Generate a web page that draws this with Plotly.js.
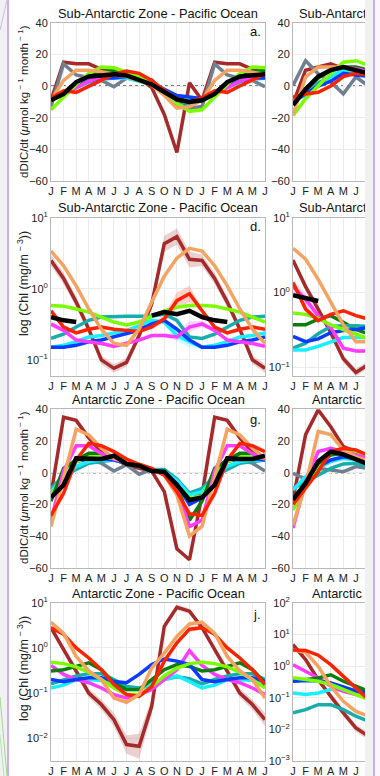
<!DOCTYPE html>
<html>
<head>
<meta charset="utf-8">
<script src="https://cdn.plot.ly/plotly-3.0.1.min.js"></script>
<style>
  html, body { margin:0; padding:0; }
  body { width:380px; height:776px; position:relative; overflow:hidden; background:#f1f1f1; }
  #white { position:absolute; left:9px; top:0; width:356px; height:776px; background:#ffffff; }
  #clip { position:absolute; left:0; top:0; width:365px; height:776px; overflow:hidden; }
  #chart { width:520px; height:776px; }
  .vline { position:absolute; top:0; width:2px; height:776px; background:#c7aef1; }
  #rightpad { position:absolute; left:375px; top:0; width:5px; height:776px; background:#f8f8f8; }
</style>
</head>
<body>
<div id="white"></div>
<div id="clip"><div id="chart"></div></div>
<div class="vline" style="left:7px"></div>
<div class="vline" style="left:373px"></div>
<div id="rightpad"></div>
<svg style="position:absolute;left:0;top:0" width="12" height="776">
  <line x1="0" y1="30" x2="7" y2="0" stroke="#cdb8f2" stroke-width="1"/>
  <line x1="0" y1="697" x2="7" y2="776" stroke="#9fd98f" stroke-width="1"/>
  <line x1="0" y1="735" x2="4" y2="776" stroke="#b6e3aa" stroke-width="1"/>
</svg>
<script>
// ---------- categories / ticks ----------
const monthLabels = ['J','F','M','A','M','J','J','A','S','O','N','D','J','F','M','A','M','J'];
const monthPos = [0,1,2,3,4,5,6,7,8,9,10,11,12,13,14,15,16,17];
const rightPos = [0,1,2,3,4,5,6];
const rightTickPos = [0,1,2,3,4,5];
const rightTickLabels = ['J','F','M','A','M','J'];

// ---------- Panel a: Sub-Antarctic Zone, Pacific, dDIC/dt (Jan..Dec climatology) ----------
const a_brown   = [-9, 15, 14, 14, 10.5, 8, 8, 5, -1, -18, -42, 2];
const a_grey    = [-13, 14, 7, 5, 3.5, -0.5, 5, 3.5, 4, -5, -12, -14];
const a_lgreen  = [-15, -7, 1, 8, 12, 11.5, 9, 6, 1.5, -5, -11, -16];
const a_dgreen  = [-8, -4, 2, 6, 9, 10, 8, 5, 2, -3, -9, -12];
const a_orange  = [-9, 3.5, 10, 10, 9, 7.5, 6, 3.5, 0.5, -6, -14, -13];
const a_red     = [-7.5, -3, -4, 0, 3.5, 7.5, 9.5, 8, 3.5, -3, -9, -10];
const a_blue    = [-8, -4, 0, 3, 5, 5, 6, 4, 2, -2, -6, -7];
const a_cyan    = [-8, -5, -1, 2, 4, 5, 5, 3, 1, -4, -8, -8];
const a_teal    = [-9, -5, 0, 3, 5, 6, 6, 4, 1, -4, -10, -11];
const a_magenta = [-8, -5, -1, 3, 6, 7, 6, 4, 1, -3, -8, -10];
const a_black   = [-9, -5, 2.5, 6, 6.7, 7.4, 6.7, 4.2, 1, -3.8, -8.4, -10];

// ---------- Panel b (right column, first months) ----------
const b_grey    = [0.4, 16, 7.8, 2.5, -4.9, 5.7, 0];
const b_brown   = [-11, 10, 12, 14, 11, 9, 8];
const b_orange  = [-18, 5.7, 12, 12, 12, 10, 7];
const b_lgreen  = [-18.6, -8, 0, 8, 15, 16, 13];
const b_dgreen  = [-10, -3, 5, 10, 12, 12, 10];
const b_red     = [-7, -5, -4, 0, 6, 8, 7];
const b_blue    = [-10, -5, 0, 3, 8, 7, 6];
const b_cyan    = [-9, -6, 0, 6, 10, 8, 7];
const b_teal    = [-8, -6, 2, 6, 10, 10, 9];
const b_magenta = [-10, -2, 6, 10, 12, 11, 9];
const b_black   = [-12, -2, 6, 10, 12, 10, 8];

// ---------- Panel d: Sub-Antarctic Zone, Pacific, Chl ----------
const d_brown   = [2.5, 1.4, 0.65, 0.27, 0.10, 0.076, 0.092, 0.22, 0.61, 4.3, 5.4, 2.6];
const d_orange  = [3.4, 2.1, 1.1, 0.52, 0.27, 0.17, 0.16, 0.27, 0.65, 1.5, 2.7, 3.7];
const d_lgreen  = [0.58, 0.57, 0.52, 0.47, 0.40, 0.34, 0.31, 0.34, 0.41, 0.49, 0.55, 0.58];
const d_black   = [0.40, 0.36, 0.34, null, null, null, null, null, 0.42, 0.47, 0.44, 0.49];
const d_red     = [0.49, 0.29, 0.24, 0.27, 0.29, 0.27, 0.26, 0.25, 0.29, 0.38, 0.68, 0.85];
const d_teal    = [0.20, 0.23, 0.29, 0.36, 0.40, 0.41, 0.41, 0.41, 0.41, 0.44, 0.36, 0.21];
const d_cyan    = [0.15, 0.16, 0.18, 0.21, 0.22, 0.24, 0.26, 0.30, 0.36, 0.34, 0.22, 0.18];
const d_blue    = [0.15, 0.15, 0.16, 0.18, 0.19, 0.21, 0.23, 0.26, 0.32, 0.36, 0.27, 0.19];
const d_magenta = [0.32, 0.26, 0.19, 0.18, 0.17, 0.155, 0.17, 0.19, 0.22, 0.22, 0.21, 0.29];
// band half-widths (multiplicative)
const d_brownSpread   = [1.2, 1.2, 1.2, 1.15, 1.15, 1.15, 1.15, 1.15, 1.2, 1.3, 1.3, 1.3];
const d_redSpread     = [1.05, 1.05, 1.05, 1.05, 1.05, 1.05, 1.05, 1.05, 1.08, 1.15, 1.3, 1.3];
const d_magentaSpread = [1.1, 1.08, 1.05, 1.05, 1.05, 1.05, 1.05, 1.05, 1.05, 1.05, 1.12, 1.2];
const d_cyanSpread    = [1.05, 1.05, 1.05, 1.05, 1.05, 1.05, 1.05, 1.05, 1.05, 1.1, 1.2, 1.2];

// ---------- Panel e (right column) ----------
const e_orange  = [3.9, 2.8, 1.5, 0.73, 0.37, 0.22, 0.22];
const e_brown   = [2.7, 1.2, 0.60, 0.29, 0.13, 0.085, 0.11];
const e_red     = [1.36, 0.60, 0.42, 0.51, 0.57, 0.49, 0.44];
const e_magenta = [1.2, 0.81, 0.49, 0.34, 0.18, 0.165, 0.165];
const e_black   = [0.92, 0.84, 0.77, null, null, null, null];
const e_lgreen  = [0.53, 0.51, 0.45, 0.37, 0.32, 0.28, 0.24];
const e_dgreen  = [0.37, 0.37, 0.44, 0.49, 0.40, 0.32, 0.28];
const e_teal    = [0.18, 0.21, 0.28, 0.35, 0.36, 0.36, 0.35];
const e_blue    = [0.26, 0.22, 0.24, 0.29, 0.31, 0.32, 0.34];
const e_cyan    = [0.17, 0.17, 0.19, 0.22, 0.25, 0.25, 0.25];
const e_brownSpread   = [1.12, 1.12, 1.12, 1.12, 1.12, 1.12, 1.12];
const e_magentaSpread = [1.2, 1.2, 1.1, 1.05, 1.05, 1.05, 1.05];

// ---------- Panel g: Antarctic Zone, Pacific, dDIC/dt ----------
const g_brown   = [-14, 35, 33, 22, 13, 8.6, 4.8, 2.7, 1, -12, -48, -55];
const g_grey    = [-12, -2, 8, 8, 6, 1, 5, -1, 2, 1, -5, -18];
const g_lgreen  = [-15, 0, 7, 10, 10, 9, 7, 5, 2, 0, -8, -16];
const g_dgreen  = [-18, 2.7, 8, 12.2, 12.2, 9, 5.9, 3.8, 1.7, -0.4, -7.8, -30];
const g_orange  = [-34, -3, 27.4, 23.8, 15.4, 9, 6.5, 3.8, 1.7, -1.5, -14, -40];
const g_red     = [-27, -13, 8, 18.5, 17, 13.3, 8.6, 5.3, 2.7, -1.5, -12, -26];
const g_blue    = [-16, -2, 7, 9, 9, 8, 6, 4, 2, 0, -7, -20];
const g_cyan    = [-12, -3, 4, 7, 8, 8, 6, 4, 2, 1, -5, -14];
const g_teal    = [-10, -2, 2, 6, 7, 8, 6, 4, 2, 2, -4, -13];
const g_magenta = [-30, 1, 17, 17, 12, 8.6, 6.5, 3.8, 1.7, -1, -10, -34];
const g_black   = [-15.6, -7.8, 9, 8.6, 8.6, 10.7, 5.5, 4.4, 1, 0.6, -7.8, -17.3];

// ---------- Panel h (right column) ----------
const h_brown   = [-17, 24, 39.6, 29, 16.4, 13.3, 10];
const h_grey    = [-0.4, -4, 2.7, 1.7, 0.6, 3.8, 2.7];
const h_lgreen  = [-23.6, -7.8, 4.8, 12.2, 14.3, 13.3, 10];
const h_dgreen  = [-18, -5.7, 5.9, 11.2, 12.2, 11, 8.6];
const h_orange  = [-33, -7.8, 26, 24, 14.3, 10, 7];
const h_red     = [-20, -10, 0.6, 13.3, 15.4, 14.3, 11];
const h_blue    = [-17, -6.7, 3.8, 8, 10, 9, 7];
const h_cyan    = [-11, -2.5, 2.7, 7, 9, 8, 6];
const h_teal    = [-10, -5.7, -1.5, 2.7, 5.5, 5.9, 3.8];
const h_magenta = [-35, -5.7, 13.3, 15.4, 13.3, 11, 9];
const h_black   = [-17, -6.7, 7, 13.3, 11.6, 8.6, 5.3];

// ---------- Panel j: Antarctic Zone, Pacific, Chl ----------
const j_brown   = [2.8, 0.92, 0.33, 0.10, 0.056, 0.026, 0.0073, 0.0067, 0.051, 3.0, 7.9, 6.5];
const j_orange  = [3.7, 2.1, 0.65, 0.31, 0.2, 0.078, 0.063, 0.093, 0.36, 0.77, 1.8, 3.4];
const j_red     = [2.8, 2.0, 1.0, 0.6, 0.33, 0.155, 0.093, 0.085, 0.14, 0.51, 1.3, 2.6];
const j_dgreen  = [0.31, 0.33, 0.39, 0.47, 0.33, 0.17, 0.12, 0.12, 0.2, 0.33, 0.43, 0.39];
const j_lgreen  = [0.48, 0.45, 0.38, 0.29, 0.2, 0.13, 0.093, 0.093, 0.14, 0.24, 0.36, 0.45];
const j_blue    = [0.2, 0.18, 0.2, 0.22, 0.22, 0.18, 0.17, 0.26, 0.43, 0.57, 0.51, 0.43];
const j_magenta = [0.41, 0.26, 0.2, 0.17, 0.13, 0.093, 0.078, 0.093, 0.12, 0.2, 0.33, 0.87];
const j_teal    = [0.16, 0.2, 0.24, 0.27, 0.27, 0.2, 0.14, 0.13, 0.15, 0.2, 0.23, 0.21];
const j_cyan    = [0.13, 0.15, 0.2, 0.2, 0.19, 0.15, 0.12, 0.12, 0.17, 0.2, 0.24, 0.18];
const j_brownSpread  = [1.15, 1.15, 1.2, 1.25, 1.3, 1.4, 1.6, 1.9, 1.5, 1.2, 1.15, 1.15];
const j_redSpread    = [1.1, 1.08, 1.06, 1.06, 1.06, 1.06, 1.06, 1.06, 1.06, 1.08, 1.12, 1.15];
const j_orangeSpread = [1.12, 1.1, 1.08, 1.08, 1.08, 1.1, 1.12, 1.12, 1.1, 1.08, 1.1, 1.12];

// ---------- Panel k (right column) ----------
const k_brown   = [4.7, 1.6, 0.37, 0.11, 0.033, 0.011, 0.006];
const k_red     = [3.2, 3.1, 2.2, 1.1, 0.47, 0.2, 0.087];
const k_orange  = [3.2, 2.7, 0.98, 0.23, 0.077, 0.037, 0.026];
const k_dgreen  = [0.33, 0.37, 0.42, 0.53, 0.33, 0.23, 0.16];
const k_lgreen  = [0.43, 0.38, 0.33, 0.26, 0.18, 0.125, 0.087];
const k_magenta = [1.1, 0.68, 0.42, 0.23, 0.16, 0.125, 0.11];
const k_blue    = [0.33, 0.35, 0.34, 0.29, 0.22, 0.16, 0.14];
const k_cyan    = [0.14, 0.125, 0.14, 0.18, 0.18, 0.18, 0.14];
const k_teal    = [0.033, 0.042, 0.06, 0.06, 0.042, 0.026, 0.018];
const k_brownSpread = [1.2, 1.2, 1.2, 1.25, 1.3, 1.3, 1.3];

// ---------- styling ----------
const COL = {
  brown:'#a52a2a', grey:'#708090', lgreen:'#7cfc00', dgreen:'#0a7d0a', orange:'#f4a460',
  red:'#ff2200', blue:'#0a3cff', cyan:'#19f0ff', teal:'#17adad', magenta:'#ff3cff', black:'#000000'
};
const BAND = {
  brown:'rgba(165,42,42,0.22)', red:'rgba(255,34,0,0.2)', magenta:'rgba(255,60,255,0.22)',
  cyan:'rgba(25,240,255,0.22)', orange:'rgba(244,164,96,0.25)'
};
const FONT = 'Liberation Sans, Arial, Helvetica, sans-serif';
const W = 520, H = 776;

// repeat a Jan..Dec climatology through the following June (18 months shown)
const cyc = a => a.concat(a.slice(0, 6));

const traces = [];
function line(ax, xs, ys, color, width) {
  traces.push({type:'scatter', mode:'lines', x:xs, y:ys, xaxis:'x'+ax, yaxis:'y'+ax,
    line:{color:color, width:width||3.5, shape:'linear'}, connectgaps:false, hoverinfo:'skip'});
}
function band(ax, xs, ys, spread, color) {
  const lo = ys.map((v,i)=> v==null?null: v/spread[i]);
  const hi = ys.map((v,i)=> v==null?null: v*spread[i]);
  traces.push({type:'scatter', mode:'lines', x:xs, y:lo, xaxis:'x'+ax, yaxis:'y'+ax,
    line:{width:0, color:'rgba(0,0,0,0)'}, hoverinfo:'skip'});
  traces.push({type:'scatter', mode:'lines', x:xs, y:hi, xaxis:'x'+ax, yaxis:'y'+ax,
    line:{width:0, color:'rgba(0,0,0,0)'}, fill:'tonexty', fillcolor:color, hoverinfo:'skip'});
}

// Panel a (axis '')
const A = '';
[['brown',a_brown],['grey',a_grey],['dgreen',a_dgreen],['teal',a_teal],['cyan',a_cyan],['blue',a_blue],
 ['magenta',a_magenta],['lgreen',a_lgreen],['orange',a_orange],['red',a_red]].forEach(([c,v])=>line(A, monthPos, cyc(v), COL[c]));
line(A, monthPos, cyc(a_black), COL.black, 4.5);

// Panel b (axis 2)
[['brown',b_brown],['grey',b_grey],['dgreen',b_dgreen],['teal',b_teal],['cyan',b_cyan],['blue',b_blue],
 ['magenta',b_magenta],['lgreen',b_lgreen],['orange',b_orange],['red',b_red]].forEach(([c,v])=>line('2', rightPos, v, COL[c]));
line('2', rightPos, b_black, COL.black, 4.5);

// Panel d (axis 3)
band('3', monthPos, cyc(d_brown), cyc(d_brownSpread), BAND.brown);
band('3', monthPos, cyc(d_red), cyc(d_redSpread), BAND.red);
band('3', monthPos, cyc(d_magenta), cyc(d_magentaSpread), BAND.magenta);
band('3', monthPos, cyc(d_cyan), cyc(d_cyanSpread), BAND.cyan);
[['brown',d_brown],['teal',d_teal],['cyan',d_cyan],['blue',d_blue],['magenta',d_magenta],
 ['lgreen',d_lgreen],['red',d_red],['orange',d_orange]].forEach(([c,v])=>line('3', monthPos, cyc(v), COL[c]));
line('3', monthPos, cyc(d_black), COL.black, 4.5);

// Panel e (axis 4)
band('4', rightPos, e_brown, e_brownSpread, BAND.brown);
band('4', rightPos, e_magenta, e_magentaSpread, BAND.magenta);
[['brown',e_brown],['dgreen',e_dgreen],['teal',e_teal],['cyan',e_cyan],['blue',e_blue],['magenta',e_magenta],
 ['lgreen',e_lgreen],['red',e_red],['orange',e_orange]].forEach(([c,v])=>line('4', rightPos, v, COL[c]));
line('4', rightPos, e_black, COL.black, 4.5);

// Panel g (axis 5)
[['brown',g_brown],['grey',g_grey],['teal',g_teal],['cyan',g_cyan],['blue',g_blue],['lgreen',g_lgreen],
 ['dgreen',g_dgreen],['magenta',g_magenta],['orange',g_orange],['red',g_red]].forEach(([c,v])=>line('5', monthPos, cyc(v), COL[c]));
line('5', monthPos, cyc(g_black), COL.black, 4.5);

// Panel h (axis 6)
[['brown',h_brown],['grey',h_grey],['teal',h_teal],['cyan',h_cyan],['blue',h_blue],['lgreen',h_lgreen],
 ['dgreen',h_dgreen],['magenta',h_magenta],['orange',h_orange],['red',h_red]].forEach(([c,v])=>line('6', rightPos, v, COL[c]));
line('6', rightPos, h_black, COL.black, 4.5);

// Panel j (axis 7)
band('7', monthPos, cyc(j_brown), cyc(j_brownSpread), BAND.brown);
band('7', monthPos, cyc(j_red), cyc(j_redSpread), BAND.red);
band('7', monthPos, cyc(j_orange), cyc(j_orangeSpread), BAND.orange);
[['brown',j_brown],['teal',j_teal],['cyan',j_cyan],['magenta',j_magenta],['dgreen',j_dgreen],['blue',j_blue],
 ['lgreen',j_lgreen],['red',j_red],['orange',j_orange]].forEach(([c,v])=>line('7', monthPos, cyc(v), COL[c]));

// Panel k (axis 8)
band('8', rightPos, k_brown, k_brownSpread, BAND.brown);
[['brown',k_brown],['teal',k_teal],['cyan',k_cyan],['magenta',k_magenta],['dgreen',k_dgreen],['blue',k_blue],
 ['lgreen',k_lgreen],['orange',k_orange],['red',k_red]].forEach(([c,v])=>line('8', rightPos, v, COL[c]));

// ---------- layout ----------
const px = v => v / W;            // horizontal pixel -> paper
const py = v => 1 - v / H;        // vertical pixel -> paper
const LEFT = [px(51), px(265)], RIGHT = [px(293), px(507)];
const ROWS = [[py(181), py(22.7)], [py(375.5), py(217.7)], [py(567.7), py(409.3)], [py(761), py(602.7)]];

function xaxis(domain, anchor, vals, texts) {
  return {domain, anchor, range:[0,17], tickvals:vals, ticktext:texts, showgrid:true,
    gridcolor:'#ececec', gridwidth:1, showline:true, mirror:true, linecolor:'#b8b8b8', linewidth:1,
    zeroline:false, ticks:'', tickfont:{size:11, color:'#222', family:FONT}, fixedrange:true};
}
function ylin(domain, anchor) {
  return {domain, anchor, range:[-60,40], tickvals:[-60,-40,-20,0,20,40], showgrid:true,
    gridcolor:'#ececec', showline:true, mirror:true, linecolor:'#b8b8b8', zeroline:false, ticks:'',
    tickfont:{size:11, color:'#222', family:FONT}, fixedrange:true};
}
function ylog(domain, anchor, range, vals, texts) {
  return {domain, anchor, type:'log', range, tickvals:vals, ticktext:texts, showgrid:true,
    gridcolor:'#ececec', showline:true, mirror:true, linecolor:'#b8b8b8', zeroline:false, ticks:'',
    tickfont:{size:11, color:'#222', family:FONT}, fixedrange:true};
}
const logVals3 = [0.1, 1, 10], logText3 = ['10<sup>−1</sup>','10<sup>0</sup>','10<sup>1</sup>'];
const logVals6 = [0.001, 0.01, 0.1, 1, 10, 100];
const logText6 = ['10<sup>−3</sup>','10<sup>−2</sup>','10<sup>−1</sup>','10<sup>0</sup>','10<sup>1</sup>','10<sup>2</sup>'];

const layout = {
  width:W, height:H, margin:{l:0,r:0,t:0,b:0}, showlegend:false,
  paper_bgcolor:'rgba(0,0,0,0)', plot_bgcolor:'#ffffff',
  font:{family:FONT, size:11, color:'#222'},
  xaxis:  xaxis(LEFT,'y', monthPos, monthLabels),    yaxis:  ylin(ROWS[0],'x'),
  xaxis2: xaxis(RIGHT,'y2', rightTickPos, rightTickLabels), yaxis2: ylin(ROWS[0],'x2'),
  xaxis3: xaxis(LEFT,'y3', monthPos, monthLabels),   yaxis3: ylog(ROWS[1],'x3',[-1.22,1],logVals3,logText3),
  xaxis4: xaxis(RIGHT,'y4', rightTickPos, rightTickLabels), yaxis4: ylog(ROWS[1],'x4',[-1.11,1],logVals3,logText3),
  xaxis5: xaxis(LEFT,'y5', monthPos, monthLabels),   yaxis5: ylin(ROWS[2],'x5'),
  xaxis6: xaxis(RIGHT,'y6', rightTickPos, rightTickLabels), yaxis6: ylin(ROWS[2],'x6'),
  xaxis7: xaxis(LEFT,'y7', monthPos, monthLabels),   yaxis7: ylog(ROWS[3],'x7',[-2.5,1],logVals6,logText6),
  xaxis8: xaxis(RIGHT,'y8', rightTickPos, rightTickLabels), yaxis8: ylog(ROWS[3],'x8',[-3,2],logVals6,logText6),
  shapes: [['x','y'],['x2','y2'],['x5','y5'],['x6','y6']].map(([xa,ya])=>({type:'line', layer:'below',
    xref:xa, x0:0, x1:17, yref:ya, y0:0, y1:0,
    line:{color:'#000', width:1.2, dash:'dot'}})),
  annotations: []
};

const titleFont = {family:FONT, size:12.8, color:'#111'};
const ann = layout.annotations;
const titleRows = [13, 208, 400, 593];
const leftTitles = ['Sub-Antarctic Zone - Pacific Ocean','Sub-Antarctic Zone - Pacific Ocean','Antarctic Zone - Pacific Ocean','Antarctic Zone - Pacific Ocean'];
const rightTitles = ['Sub-Antarctic Zone - Atlantic Ocean','Sub-Antarctic Zone - Atlantic Ocean','Antarctic Zone - Atlantic Ocean','Antarctic Zone - Atlantic Ocean'];
titleRows.forEach((y,i)=>{
  ann.push({xref:'paper', yref:'paper', x:px(158), y:py(y), text:leftTitles[i], showarrow:false, xanchor:'center', yanchor:'middle', font:titleFont});
  ann.push({xref:'paper', yref:'paper', x:px(400), y:py(y), text:rightTitles[i], showarrow:false, xanchor:'center', yanchor:'middle', font:titleFont});
});
const panelLabels = [['a.',31.5],['d.',226],['g.',419],['j.',614]];
panelLabels.forEach(([t,y])=>{
  ann.push({xref:'paper', yref:'paper', x:px(263), y:py(y), text:t, showarrow:false, xanchor:'right', yanchor:'middle', font:{family:FONT, size:13, color:'#111'}});
});
const dicTitle = 'dDIC/dt (<i>μ</i>mol kg<sup> − 1</sup> month<sup> − 1</sup>)';
const chlTitle = 'log (Chl (mg/m<sup> − 3</sup>))';
[[dicTitle,102,11.5],[chlTitle,284,12.5],[dicTitle,488,11.5],[chlTitle,669,12.5]].forEach(([t,y,s])=>{
  ann.push({xref:'paper', yref:'paper', x:px(23), y:py(y), text:t, textangle:-90, showarrow:false, xanchor:'center', yanchor:'middle', font:{family:FONT, size:s, color:'#222'}});
});

Plotly.newPlot('chart', traces, layout, {displayModeBar:false, responsive:false});
</script>
</body>
</html>
